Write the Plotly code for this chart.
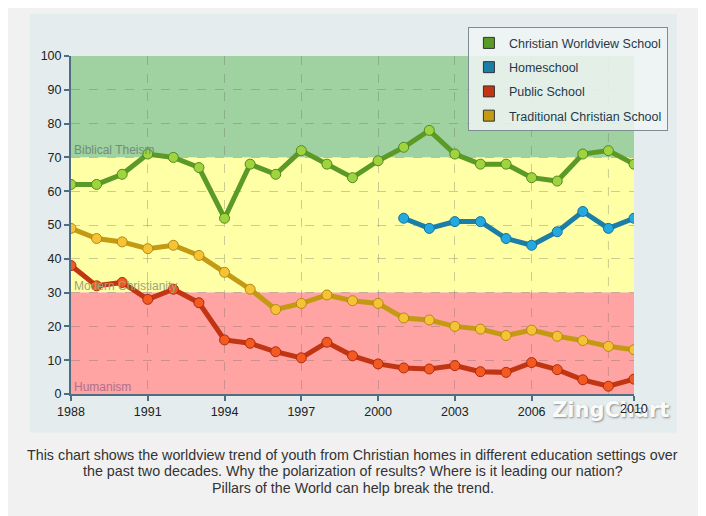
import plotly.graph_objects as go

years = list(range(1988, 2011))
home_years = list(range(2001, 2011))

christian_worldview = [62, 62, 65, 71, 70, 67, 52, 68, 65, 72, 68, 64, 69, 73, 78, 71, 68, 68, 64, 63, 71, 72, 68]
homeschool = [52, 49, 51, 51, 46, 44, 48, 54, 49, 52]
public_school = [38, 32, 33, 28, 31, 27, 16, 15, 12.5, 10.7, 15.3, 11.3, 8.9, 7.7, 7.4, 8.4, 6.6, 6.4, 9.3, 7.2, 4.2, 2.3, 4.4]
traditional = [49, 46, 45, 43, 44, 41, 36, 31, 25, 26.8, 29.3, 27.6, 26.8, 22.5, 21.9, 20, 19.2, 17.3, 18.9, 17.1, 15.8, 14.1, 13.1]

x_ticks = [1988, 1991, 1994, 1997, 2000, 2003, 2006, 2010]
y_ticks = list(range(0, 101, 10))

bands = [(70, 100, "#9fd2a0", "Biblical Theism", "#6f8f78"),
         (30, 70, "#ffffa6", "Modern Christianity", "#9ea37c"),
         (0, 30, "#ffa3a3", "Humanism", "#b0708c")]

series = [
    ("Christian Worldview School", years, christian_worldview, "#5b9a26", "#9fd43f", "#4f8a20"),
    ("Homeschool", home_years, homeschool, "#1b7ea6", "#22a9e0", "#15709a"),
    ("Public School", years, public_school, "#c23512", "#f25a22", "#b02a0c"),
    ("Traditional Christian School", years, traditional, "#c39a12", "#f7c335", "#b08a10"),
]

caption_lines = [
    "This chart shows the worldview trend of youth from Christian homes in different education settings over",
    "the past two decades. Why the polarization of results? Where is it leading our nation?",
    "Pillars of the World can help break the trend.",
]

tick_font = dict(family="Liberation Sans, Arial", size=12.5, color="#222222")

fig = go.Figure()

for name, xs, ys, lc, mc, oc in series:
    fig.add_trace(go.Scatter(
        x=xs, y=ys, mode="lines+markers", name=name, showlegend=False,
        line=dict(color=lc, width=5),
        marker=dict(size=10, color=mc, line=dict(color=oc, width=1)),
    ))

for i, (name, xs, ys, lc, mc, oc) in enumerate(series):
    fig.add_trace(go.Scatter(
        x=[None], y=[None], mode="markers", name=name, legendgroup=str(i),
        marker=dict(symbol="square", size=11, color=lc, line=dict(color="#333333", width=1)),
    ))

shapes = [dict(type="rect", xref="paper", yref="paper", x0=-0.0728, x1=1.0764, y0=-0.115, y1=1.124,
               fillcolor="#e4ecee", line=dict(width=0), layer="below")]
annotations = []
for lo, hi, col, label, tcol in bands:
    shapes.append(dict(type="rect", xref="x", yref="y", x0=years[0], x1=years[-1], y0=lo, y1=hi,
                       fillcolor=col, line=dict(width=0), layer="below"))
    annotations.append(dict(x=years[0], y=lo, xref="x", yref="y", text=label, showarrow=False,
                            xanchor="left", yanchor="bottom", xshift=1, yshift=-2,
                            font=dict(family="Liberation Sans, Arial", size=12, color=tcol)))

shapes.append(dict(type="line", xref="x", yref="y", x0=2009, x1=2009, y0=0, y1=100,
                   line=dict(color="rgba(110,110,110,0.35)", width=1, dash="dash"), layer="between"))

for yy, line in zip([-0.1805, -0.229, -0.278], caption_lines):
    annotations.append(dict(x=0.5, y=yy, xref="paper", yref="paper", text=line, showarrow=False,
                            xanchor="center", yanchor="middle", align="center",
                            font=dict(family="Liberation Sans, Arial", size=14.3, color="#333333")))
annotations.append(dict(x=0.959, y=-0.047, xref="paper", yref="paper", text="<b>ZingChart</b>", showarrow=False,
                        xanchor="center", yanchor="middle", opacity=0.8,
                        font=dict(family="DejaVu Sans", size=21, color="#ffffff",
                                  shadow="1px 1px 2px #777777")))
# last tick label drawn on top of the watermark, as in the reference
annotations.append(dict(x=x_ticks[-1], y=0, xref="x", yref="y", text=str(x_ticks[-1]), showarrow=False,
                        xanchor="center", yanchor="top", yshift=-6, font=tick_font))

fig.update_layout(
    width=706, height=516,
    margin=dict(l=63, r=80, t=48, b=130),
    paper_bgcolor="#f1f1f1", plot_bgcolor="rgba(0,0,0,0)",
    shapes=shapes, annotations=annotations,
    showlegend=True,
    legend=dict(x=0.705, y=1.085, xanchor="left", yanchor="top",
                bgcolor="rgba(240,245,245,0.85)", bordercolor="#7d8d93", borderwidth=1,
                font=dict(family="Liberation Sans, Arial", size=12.5, color="#1f3a4a"),
                tracegroupgap=5, itemclick=False),
    xaxis=dict(range=[years[0], years[-1]], tickvals=x_ticks,
               ticktext=[str(v) for v in x_ticks[:-1]] + [""],
               showgrid=True, gridcolor="rgba(110,110,110,0.35)", griddash="dash", gridwidth=1,
               showline=True, linecolor="#4e6d82", linewidth=2, ticks="outside", ticklen=5,
               tickcolor="#4e6d82", tickwidth=2, zeroline=False, tickfont=tick_font),
    yaxis=dict(range=[0, 100], tickvals=y_ticks,
               showgrid=True, gridcolor="rgba(110,110,110,0.35)", griddash="dash", gridwidth=1,
               showline=True, linecolor="#4e6d82", linewidth=2, ticks="outside", ticklen=5,
               tickcolor="#4e6d82", tickwidth=2, zeroline=False, tickfont=tick_font),
)

fig.write_html("out.html")
